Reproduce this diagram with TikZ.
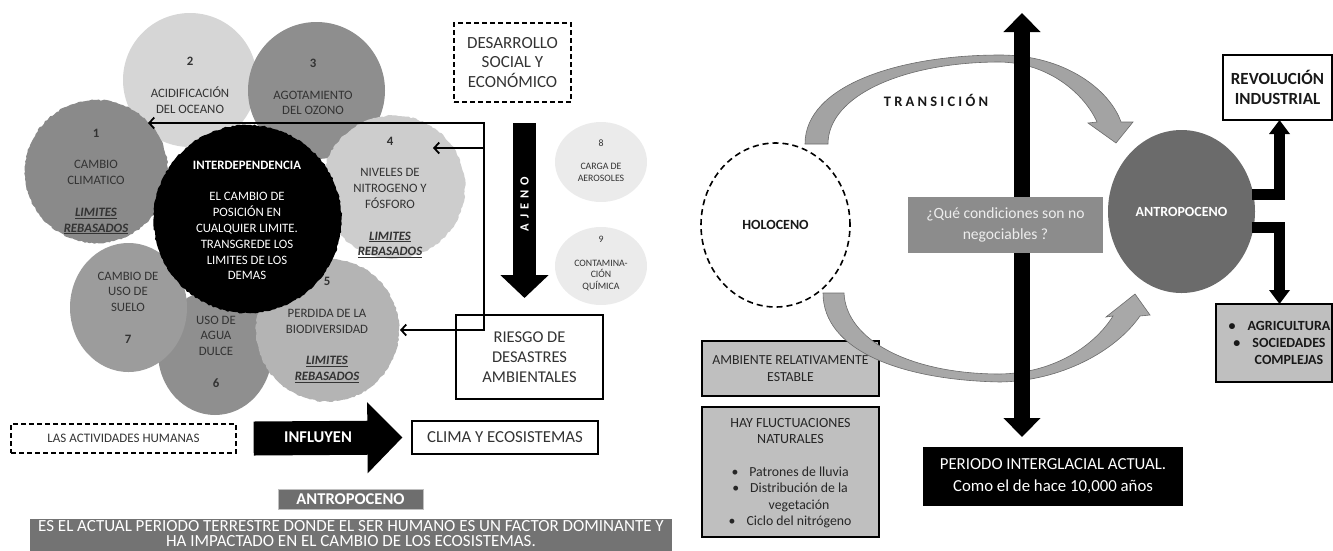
\documentclass[tikz,border=0pt]{standalone}
\usepackage{fontspec}
\setmainfont{Carlito}
\usetikzlibrary{arrows.meta,shapes.geometric,decorations.pathmorphing}
\newcommand{\myfs}[2]{\fontsize{#1}{#2}\selectfont}
\newcommand{\limreb}{\textbf{\textit{\underline{LIMITES}}}\\\textbf{\textit{\underline{REBASADOS}}}}
\newcommand{\bul}{\llap{\textbullet\hspace{11pt}}}
\newcommand{\tsp}{\hspace{3.2pt}}
\definecolor{cA}{HTML}{8A8A8A}
\definecolor{cB}{HTML}{D6D6D6}
\definecolor{cC}{HTML}{8E8E8E}
\definecolor{cD}{HTML}{CDCDCD}
\definecolor{cE}{HTML}{B4B4B4}
\definecolor{cF}{HTML}{8F8F8F}
\definecolor{cG}{HTML}{9C9C9C}
\definecolor{cH}{HTML}{EBEBEB}
\definecolor{tgray}{HTML}{333333}
\definecolor{boxgray}{HTML}{BFBFBF}
\definecolor{bandgray}{HTML}{737373}
\definecolor{labgray}{HTML}{6E6E6E}
\definecolor{qgray}{HTML}{8C8C8C}
\definecolor{qtext}{HTML}{EDEDED}
\definecolor{antgray}{HTML}{6B6B6B}
\definecolor{arcfill}{HTML}{A3A3A3}
\definecolor{arcline}{HTML}{6B6B6B}
\begin{document}
\begin{tikzpicture}[x=1pt,y=-1pt,
  bub/.style={circle, inner sep=0pt, minimum size=#1},
  oval/.style={ellipse, inner sep=0pt},
  jag/.style={decorate, decoration={random steps, segment length=2.5pt, amplitude=0.7pt}},
  ctext/.style={font=\myfs{12.8}{15.8}, text=tgray, align=center},
  stext/.style={font=\myfs{9.8}{11.8}, text=tgray, align=center},
  conn/.style={line width=1.8pt, -{Straight Barb[length=5pt,width=11pt]}},
  dbox/.style={draw=black, line width=1.3pt, dash pattern=on 5pt off 3pt, inner sep=0pt, align=center, text=tgray},
  sbox/.style={draw=black, line width=1.2pt, inner sep=0pt, align=center},
  thk/.style={line width=11pt, -{Triangle[width=20pt,length=14pt]}},
  ]
\useasboundingbox (0,0) rectangle (1333,550);

% ---------------- LEFT: planetary boundaries ----------------
\node[bub=134pt, fill=cB] (n2) at (190,80) {};
\node[bub=137pt, fill=cC] (n3) at (316.5,90.5) {};
\node[bub=143pt, fill=cA, jag] (n1) at (96.5,171.5) {};
\node[bub=143pt, fill=cD, jag] (n4) at (393.5,187) {};
\node[oval, minimum width=114pt, minimum height=125pt, fill=cF] (n6) at (215,352.5) {};
\node[oval, minimum width=117pt, minimum height=129pt, fill=cG] (n7) at (128.5,307.5) {};
\node[bub=143pt, fill=cE, jag] (n5) at (327.5,330) {};
\node[bub=188pt, fill=black, jag] (nI) at (247.5,219) {};

\node[ctext] (t2) at (190,85.5) {\textbf{2}\\[15.8pt]ACIDIFICACIÓN\\DEL OCEANO};
\node[ctext] (t3) at (313,87) {\textbf{3}\\[15.8pt]AGOTAMIENTO\\DEL OZONO};
\node[ctext] (t1) at (96,181.5) {\textbf{1}\\[15.8pt]CAMBIO\\CLIMATICO\\[15.8pt]\limreb};
\node[ctext] (t4) at (390,197.5) {\textbf{4}\\[15.8pt]NIVELES DE\\NITROGENO Y\\FÓSFORO\\[15.8pt]\limreb};
\node[ctext, text=white] (tI) at (247,220.5) {\textbf{INTERDEPENDENCIA}\\[15.8pt]EL CAMBIO DE\\POSICIÓN EN\\CUALQUIER LIMITE.\\TRANSGREDE LOS\\LIMITES DE LOS\\DEMAS};
\node[ctext] (t7) at (128,307.5) {CAMBIO DE\\USO DE\\SUELO\\[15.8pt]\textbf{7}};
\node[ctext] (t6) at (216,351.5) {USO DE\\AGUA\\DULCE\\[15.8pt]\textbf{6}};
\node[ctext] (t5) at (327,330) {\textbf{5}\\[15.8pt]PERDIDA DE LA\\BIODIVERSIDAD\\[15.8pt]\limreb};

\node[oval, minimum width=92pt, minimum height=80pt, fill=cH] (n8) at (601,162) {};
\node[oval, minimum width=92pt, minimum height=78pt, fill=cH] (n9) at (601,266) {};
\node[stext] (t8) at (601,160.5) {8\\[11.8pt]CARGA DE\\AEROSOLES};
\node[stext] (t9) at (601,263.5) {9\\[11.8pt]CONTAMINA-\\CIÓN\\QUÍMICA};

\node[dbox, minimum width=117pt, minimum height=79pt, font=\myfs{17}{19.5}] (des) at (512.5,62.5) {DESARROLLO\\SOCIAL Y\\ECONÓMICO};

\coordinate (ajtop) at (524.5,123);
\coordinate (ajtip) at (524.5,298);
\draw[line width=23pt, -{Triangle[width=47pt,length=23pt]}] (ajtop) -- (ajtip);
\node[rotate=90, text=white, font=\bfseries\myfs{12.5}{12.5}] (ajeno) at (524.5,204) {A\hspace{5pt}J\hspace{5pt}E\hspace{5pt}N\hspace{5pt}O};

\node[sbox, fill=white, minimum width=147pt, minimum height=84pt, font=\myfs{16.5}{20}, text=tgray] (riesgo) at (529.5,357) {RIESGO DE\\DESASTRES\\AMBIENTALES};

\coordinate (jc) at (484,330);
\coordinate (jt) at (484,123);
\coordinate (j4) at (484,148);
\coordinate (a1) at (148,123);
\coordinate (a4) at (433,148);
\coordinate (a5) at (400,330);
\draw[conn] (jc) -- (jt) -- (a1);
\draw[conn] (j4) -- (a4);
\draw[conn] ([xshift=0.9pt]jc) -- (a5);

\node[dbox, minimum width=225pt, minimum height=29pt, font=\myfs{13}{14}] (activ) at (123.5,438.5) {LAS ACTIVIDADES HUMANAS};
\node[sbox, minimum width=186pt, minimum height=33pt, font=\myfs{16.8}{18}, text=tgray] (clima) at (505,437.5) {CLIMA Y ECOSISTEMAS};
\draw[line width=34pt, -{Triangle[width=69pt,length=35pt]}] ([xshift=17pt]activ.east) -- ([xshift=-9pt]clima.west);
\node[text=white, font=\bfseries\myfs{16.5}{17}] (influ) at (318,437) {INFLUYEN};

\node[fill=labgray, draw=white!75!black, line width=0.6pt, minimum width=145pt, minimum height=20pt, inner sep=0pt, text=white, font=\bfseries\myfs{16.5}{17}] (antlab) at (350.5,499) {ANTROPOCENO};
\node[fill=bandgray, minimum width=642pt, minimum height=40pt, inner sep=0pt] (band) at (351,538.5) {};
\node[text=white, font=\myfs{17}{15.5}, align=center, inner sep=0pt] (bandt) at (351,533.5) {ES EL ACTUAL PERIODO TERRESTRE DONDE EL SER HUMANO ES UN FACTOR DOMINANTE Y\\HA IMPACTADO EN EL CAMBIO DE LOS ECOSISTEMAS.};

% ---------------- RIGHT: Holoceno -> Antropoceno ----------------
\node[sbox, fill=boxgray, minimum width=177pt, minimum height=55pt, font=\myfs{13.8}{16.5}, text=black!85] (amb) at (790.5,368.5) {AMBIENTE RELATIVAMENTE\\ESTABLE};
\node[sbox, fill=boxgray, minimum width=177pt, minimum height=130pt] (hay) at (790.5,472) {};
\node[font=\myfs{14}{16.5}, text=black!85, align=center] (hayh) at (790.5,431) {HAY FLUCTUACIONES\\NATURALES};
\node[font=\myfs{13.8}{16.3}, text=black!85, align=center] (hayl) at (799,497.5) {\bul Patrones de lluvia\\\bul Distribución de la\\vegetación\\\bul Ciclo del nitrógeno};

% top transition arc
\filldraw[fill=arcfill, draw=arcline, line width=0.6pt]
  (805,144) .. controls (805,85) and (900,55) .. (1000,55)
  .. controls (1065,55) and (1110,90) .. (1121,122)
  -- (1133,122) -- (1116,143) -- (1088,123) -- (1097,122)
  .. controls (1085,95) and (1050,63) .. (1000,62)
  .. controls (905,62) and (828,95) .. (828,144) -- cycle;
% bottom transition arc
\filldraw[fill=arcfill!95!white, draw=arcline, line width=0.6pt]
  (823,293) .. controls (823,350) and (900,380) .. (1000,382)
  .. controls (1060,381) and (1115,352) .. (1140,316)
  -- (1150,315) -- (1135,294) -- (1106,317) -- (1113,316)
  .. controls (1095,345) and (1055,373) .. (1000,374)
  .. controls (910,374) and (846,340) .. (844,293) -- cycle;

\coordinate (dTop) at (1022,13);
\coordinate (dBot) at (1022,437);
\draw[line width=16pt, {Triangle[width=36pt,length=19pt]}-{Triangle[width=36pt,length=19pt]}] (dTop) -- (dBot);

\node[fill=qgray, minimum width=195pt, minimum height=56pt, inner sep=0pt, text=qtext, font=\myfs{15.6}{21}, align=center] (q) at (1005.5,225) {¿Qué condiciones son no\\negociables ?};

\node[font=\bfseries\myfs{14.5}{15}, text=black!90] (trans) at (936,100) {T\tsp R\tsp A\tsp N\tsp S\tsp I\tsp C\tsp I\tsp Ó\tsp N};

\node[oval, draw=black, line width=1.6pt, dash pattern=on 6pt off 4pt, minimum width=149pt, minimum height=164pt, font=\bfseries\myfs{14}{15}, text=black!90] (holo) at (775.5,225) {HOLOCENO};

\node[sbox, line width=1.5pt, fill=white, minimum width=109pt, minimum height=65pt, font=\bfseries\myfs{17}{20}, text=black!90] (rev) at (1277.5,87.5) {REVOLUCIÓN\\INDUSTRIAL};
\node[sbox, fill=boxgray, minimum width=116pt, minimum height=78pt] (agri) at (1274,343) {};
\node[font=\bfseries\myfs{14}{17}, text=black!90, align=center] (agrit) at (1289,343) {\llap{\textbullet\hspace{12pt}}AGRICULTURA\\\llap{\textbullet\hspace{12pt}}SOCIEDADES\\COMPLEJAS};

\node[oval, fill=antgray, minimum width=147pt, minimum height=163pt, text=white, font=\bfseries\myfs{14}{15}] (antro) at (1181.5,211.5) {ANTROPOCENO};
\coordinate (revIn) at (1279.5,120);
\coordinate (agIn) at (1279.5,304);
\draw[thk, shorten <=70pt] ([yshift=17.5pt]antro.center) -| (revIn);
\draw[thk, shorten <=70pt] ([yshift=-15.5pt]antro.center) -| (agIn);

\node[fill=black, minimum width=260pt, minimum height=59pt, inner sep=0pt, text=white, font=\myfs{16.8}{22}, align=center] (per) at (1053,476.5) {PERIODO INTERGLACIAL ACTUAL.\\Como el de hace 10,000 años};
\end{tikzpicture}
\end{document}
